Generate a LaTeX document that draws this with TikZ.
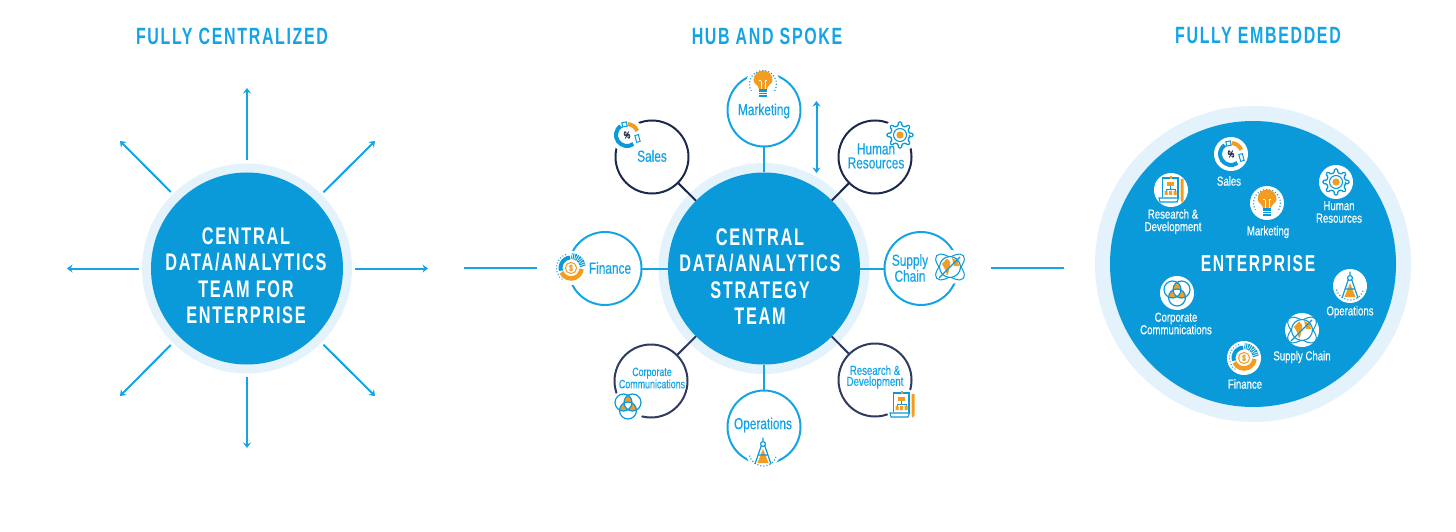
\documentclass[tikz,border=0pt]{standalone}
\usepackage{fontspec}
\usepackage{tikz}
\usetikzlibrary{positioning,arrows.meta,calc,shapes.geometric}
\newfontfamily\capsfont[FakeStretch=0.68,LetterSpace=7]{Liberation Sans}
\newfontfamily\lblfont[FakeStretch=0.74,FakeBold=0.5]{Liberation Sans}
\definecolor{hubblue}{HTML}{0A99D9}
\definecolor{ringblue}{HTML}{E3F2FB}
\definecolor{skyblue}{HTML}{14A4E6}
\definecolor{navy}{HTML}{1B2A4C}
\definecolor{slate}{HTML}{2F3C60}
\definecolor{amber}{HTML}{F39C1F}
\tikzset{
  icondisc/.pic={\fill[white] (0,0) circle (17);},
  % Sales: donut with percent
  iconsales/.pic={
    \pic {icondisc};
    \draw[hubblue, line width=4] (125:11) arc (125:305:11);
    \draw[amber, line width=4] (85:11) arc (85:22:11);
    \draw[hubblue, line width=1, rotate around={10:(-2.5,10.5)}] (-4.8,8.3) rectangle (-.2,12.7);
    \draw[hubblue, line width=1, rotate around={15:(10.5,-3.5)}] (8.7,-7) rectangle (12.3,0);
    \node[font=\lblfont\bfseries\fontsize{10}{10}\selectfont, text=navy, inner sep=0pt] (-pct) at (0,0) {\%};
  },
  % Marketing: light bulb
  iconbulb/.pic={
    \pic {icondisc};
    \draw[hubblue, line width=1.1, dotted] (-30:13.5) arc (-30:210:13.5);
    \fill[amber] (-4,-5) -- (4,-5) .. controls (4.5,-1) and (9.5,0) .. (9.5,4) arc (0:180:9.5) .. controls (-9.5,0) and (-4.5,-1) .. cycle;
    \draw[white, line width=1] (-2,-5) -- (-2,3) (2,-5) -- (2,3) (-4,3) -- (-2,3) (4,3) -- (2,3);
    \fill[hubblue] (-4,-13.5) rectangle (4,-5.5);
    \draw[white, line width=.8] (-4,-8) -- (4,-8) (-4,-10.7) -- (4,-10.7);
  },
  % Human Resources: gear
  icongear/.pic={
    \pic {icondisc};
    \draw[hubblue, line width=1.3, rounded corners=1] (-10:9.5)
      \foreach \a in {0,45,...,315}{ -- (\a-11:9.5) -- (\a-7:13) -- (\a+7:13) -- (\a+11:9.5)} -- cycle;
    \draw[hubblue, line width=1.1] (0,0) circle (6.5);
    \fill[amber] (0,0) circle (3.6);
  },
  % Finance: dollar with hatched wedge
  iconfinance/.pic={
    \pic {icondisc};
    \draw[hubblue, line width=1, dotted] (110:14.5) arc (110:240:14.5);
    \draw[hubblue, line width=4] (95:10.5) arc (95:195:10.5);
    \draw[amber, line width=4.5] (205:10.5) arc (205:355:10.5);
    \draw[hubblue, line width=6, dash pattern=on 1.1pt off .9pt] (8:12) arc (8:88:12);
    \draw[amber, line width=1] (0,0) circle (5.6);
    \node[font=\lblfont\bfseries\fontsize{9}{9}\selectfont, text=amber, inner sep=0pt] (-usd) at (0,0) {\$};
  },
  % Supply Chain: globe with orbits
  iconglobe/.pic={
    \pic {icondisc};
    \draw[hubblue, line width=1, rotate=40] (0,0) ellipse (17.5 and 8);
    \draw[hubblue, line width=1, rotate=-40] (0,0) ellipse (17.5 and 8);
    \fill[white] (0,0) circle (10.5);
    \fill[amber] (-8,3) -- (-3,8.5) -- (0,5) -- (0,1) -- (-2,-1) -- (-1,-4) -- (-3,-9) -- (-4.5,-3) -- cycle;
    \fill[amber] (2,9) -- (8,6) -- (9,1) -- (4,1) -- (3,5) -- cycle;
    \draw[hubblue, line width=1.1] (0,0) circle (10.5);
    \draw[hubblue, line width=1.2] (-11,-11) -- (10,10);
  },
  % Corporate Communications: three overlapping circles
  iconvenn/.pic={
    \pic {icondisc};
    \begin{scope}
      \clip (-4.5,3.5) circle (8.5);
      \fill[amber] (4.5,3.5) circle (8.5);
      \fill[amber] (0,-4.5) circle (8.5);
    \end{scope}
    \begin{scope}
      \clip (4.5,3.5) circle (8.5);
      \fill[amber] (0,-4.5) circle (8.5);
    \end{scope}
    \begin{scope}
      \clip (-4.5,3.5) circle (8.5);
      \clip (4.5,3.5) circle (8.5);
      \fill[white] (0,-4.5) circle (8.5);
    \end{scope}
    \draw[hubblue, line width=1.2] (-4.5,3.5) circle (8.5) (4.5,3.5) circle (8.5) (0,-4.5) circle (8.5);
  },
  % Research: clipboard with org chart
  iconchart/.pic={
    \pic {icondisc};
    \draw[hubblue, line width=1.1] (-8.5,-7) -- (-8.5,12) -- (7,12) -- (7,-8);
    \draw[hubblue, line width=1.1] (-12,-8) -- (7.5,-8) -- (6,-12) -- (-11,-12) -- cycle;
    \fill[amber] (-1.5,11) rectangle (1,14);
    \fill[amber] (-4,4) rectangle (3,8);
    \draw[hubblue, line width=.9] (-.5,4) -- (-.5,1) (-5,1) -- (4,1) (-5,1) -- (-5,-1) (4,1) -- (4,-1);
    \fill[amber] (-6.5,-5) rectangle (-3.5,-1) (-2,-5) rectangle (1,-1) (2.5,-5) rectangle (5.5,-1);
    \fill[amber] (9.5,-10) -- (11,-13) -- (12.5,-10) -- (12.5,11) -- (9.5,11) -- cycle;
  },
  % Operations: drafting compass
  iconcompass/.pic={
    \pic {icondisc};
    \fill[amber] (0,3) -- (5.5,-11) -- (-5.5,-11) -- cycle;
    \draw[hubblue, line width=1.2] (0,8) circle (2.4) (0,10.4) -- (0,14.5);
    \draw[hubblue, line width=1.2] (-1.7,6.3) -- (-8,-12) (1.7,6.3) -- (8,-12) (-5,-3) -- (5,-3);
    \draw[hubblue, line width=1.1, dotted] (195:14) arc (195:345:14);
  },
}
\begin{document}
\begin{tikzpicture}[x=1pt,y=1pt,
    title/.style={font=\capsfont\bfseries\fontsize{23.5}{23.5}\selectfont, text=skyblue, inner sep=0pt},
    hubtext/.style={font=\capsfont\bfseries\fontsize{24}{26.5}\selectfont, text=white, align=center, inner sep=0pt},
    ring/.style={circle, fill=ringblue, outer sep=0pt, inner sep=0pt},
    hub/.style={circle, fill=hubblue, outer sep=0pt, inner sep=0pt},
    spoke/.style={skyblue, line width=2, shorten <=3pt, -{Stealth[length=5.5pt,width=8pt,inset=1.8pt]}},
    sat/.style={circle, draw=#1, line width=2, fill=none, minimum size=73pt, outer sep=0pt, inner sep=0pt},
    link/.style={draw=#1, line width=2},
    lbl/.style={font=\lblfont\fontsize{16}{14}\selectfont, text=skyblue, align=center, inner sep=0pt},
    small/.style={font=\lblfont\fontsize{#1}{11}\selectfont, text=skyblue, align=center, inner sep=0pt},
    entlbl/.style={font=\lblfont\fontsize{13}{12.5}\selectfont, text=white, align=center, inner sep=0pt},
  ]
  \useasboundingbox (0,0) rectangle (1456,531);

  % Fully centralized
  \node[title] (titleL) at (232,495) {FULLY CENTRALIZED};
  \node[ring, minimum size=210pt] (ringL) at (247,262.5) {};
  \node[hub, minimum size=192pt] (hubL) at (247,262.5) {};
  \node[hubtext] (textL) at (246,255.5) {CENTRAL\\DATA/ANALYTICS\\TEAM FOR\\ENTERPRISE};
  \coordinate (tipN) at (247,443);
  \coordinate (tipNE) at (375,390);
  \coordinate (tipE) at (428,262.5);
  \coordinate (tipSE) at (375,135);
  \coordinate (tipS) at (247,83);
  \coordinate (tipSW) at (120,135);
  \coordinate (tipW) at (67,262.5);
  \coordinate (tipNW) at (120,390);
  \draw[spoke] (ringL) -- (tipN);
  \draw[spoke] (ringL) -- (tipNE);
  \draw[spoke] (ringL) -- (tipE);
  \draw[spoke] (ringL) -- (tipSE);
  \draw[spoke] (ringL) -- (tipS);
  \draw[spoke] (ringL) -- (tipSW);
  \draw[spoke] (ringL) -- (tipW);
  \draw[spoke] (ringL) -- (tipNW);

  % Dividers
  \coordinate (divAa) at (464,263);
  \coordinate (divAb) at (537,263);
  \coordinate (divBa) at (991,263);
  \coordinate (divBb) at (1064,263);
  \draw[skyblue, line width=1.5] (divAa) -- (divAb);
  \draw[skyblue, line width=1.5] (divBa) -- (divBb);

  % Hub and spoke
  \node[title] (titleM) at (767,495) {HUB AND SPOKE};
  \node[ring, minimum size=211pt] (ringM) at (764,262.5) {};
  \node[hub, minimum size=192pt] (hubM) at (764,262.5) {};
  \node[hubtext] (textM) at (760,254.5) {CENTRAL\\DATA/ANALYTICS\\STRATEGY\\TEAM};

  \node[sat=skyblue] (mktg) at (764,421) {};
  \node[sat=navy] (sales) at (652,374) {};
  \node[sat=navy] (hr) at (875,374) {};
  \node[sat=skyblue] (supply) at (921,262.5) {};
  \node[sat=slate] (rnd) at (875,151) {};
  \node[sat=skyblue] (ops) at (764,104) {};
  \node[sat=slate] (corp) at (651,150) {};
  \node[sat=skyblue] (fin) at (605,262.5) {};

  \draw[link=skyblue] (mktg) -- (hubM);
  \draw[link=navy] (sales) -- (hubM);
  \draw[link=navy] (hr) -- (hubM);
  \draw[link=skyblue] (supply) -- (hubM);
  \draw[link=slate] (rnd) -- (hubM);
  \draw[link=skyblue] (ops) -- (hubM);
  \draw[link=slate] (corp) -- (hubM);
  \draw[link=skyblue] (fin) -- (hubM);

  \coordinate (tipUp) at (816.5,430);
  \coordinate (tipDn) at (816.5,358);
  \draw[skyblue, line width=2, {Stealth[length=5.5pt,width=8pt,inset=1.8pt]}-{Stealth[length=5.5pt,width=8pt,inset=1.8pt]}] (tipUp) -- (tipDn);

  \pic (icMktg) at (763,447) {iconbulb};
  \pic (icSales) at (627,396) {iconsales};
  \pic (icHr) at (900,396) {icongear};
  \pic (icSupply) at (950,264) {iconglobe};
  \pic (icRnd) at (902,126) {iconchart};
  \pic (icOps) at (763,79) {iconcompass};
  \pic (icCorp) at (628,125) {iconvenn};
  \pic (icFin) at (571,263) {iconfinance};

  \node[lbl] (lblMktg) at (764,420) {Marketing};
  \node[lbl] (lblSales) at (652,375) {Sales};
  \node[lbl] (lblHr) at (876,375) {Human\\Resources};
  \node[lbl] (lblSupply) at (910,263) {Supply\\Chain};
  \node[small=13] (lblRnd) at (875,154) {Research \&\\Development};
  \node[lbl] (lblOps) at (763,106) {Operations};
  \node[small=12] (lblCorp) at (652,153) {Corporate\\Communications};
  \node[lbl] (lblFin) at (610,263) {Finance};

  % Fully embedded
  \node[title] (titleR) at (1258,495) {FULLY EMBEDDED};
  \node[ring, minimum size=316pt] (ringR) at (1253,267) {};
  \node[hub, minimum size=286pt] (hubR) at (1253,267) {};
  \node[font=\capsfont\bfseries\fontsize{23}{23}\selectfont, text=white, inner sep=0pt] (textR) at (1258,267) {ENTERPRISE};

  \pic (entSales) at (1231,377) {iconsales};
  \pic (entRnd) at (1171,341) {iconchart};
  \pic (entMktg) at (1267,328) {iconbulb};
  \pic (entHr) at (1336,349) {icongear};
  \pic (entCorp) at (1177,238) {iconvenn};
  \pic (entOps) at (1350,245) {iconcompass};
  \pic (entSupply) at (1302,201) {iconglobe};
  \pic (entFin) at (1244,173) {iconfinance};

  \node[entlbl] (lblEntSales) at (1229,350) {Sales};
  \node[entlbl] (lblEntRnd) at (1173,309.5) {Research \&\\Development};
  \node[entlbl] (lblEntMktg) at (1268,299) {Marketing};
  \node[entlbl] (lblEntHr) at (1339,319) {Human\\Resources};
  \node[entlbl] (lblEntCorp) at (1176,207.5) {Corporate\\Communications};
  \node[entlbl] (lblEntOps) at (1350,219) {Operations};
  \node[entlbl] (lblEntSupply) at (1302,174) {Supply Chain};
  \node[entlbl] (lblEntFin) at (1245,147) {Finance};
\end{tikzpicture}
\end{document}
